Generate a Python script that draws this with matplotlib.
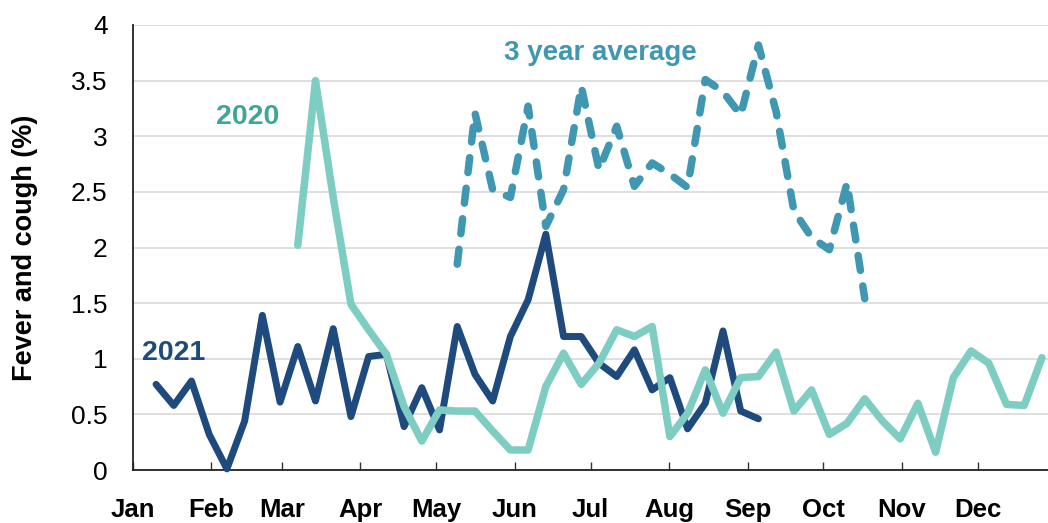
import matplotlib
matplotlib.use("Agg")
import matplotlib.pyplot as plt
import numpy as np

# ---------------- data ----------------
months = ["Jan", "Feb", "Mar", "Apr", "May", "Jun",
          "Jul", "Aug", "Sep", "Oct", "Nov", "Dec"]
month_start_day = [0, 31, 59, 90, 120, 151, 181, 212, 243, 273, 304, 334]

week_step = 7  # weekly observations, x in day-of-year

first_day_2021 = 9.3
vals_2021 = [0.77, 0.58, 0.80, 0.32, 0.01, 0.44, 1.39, 0.61, 1.11, 0.62,
             1.27, 0.48, 1.02, 1.04, 0.39, 0.74, 0.36, 1.29, 0.86, 0.62,
             1.20, 1.53, 2.12, 1.20, 1.20, 0.96, 0.84, 1.08, 0.72, 0.83,
             0.37, 0.60, 1.25, 0.53, 0.46]

first_day_2020 = 65.3
vals_2020 = [2.02, 3.50, 2.45, 1.49, 1.26, 1.04, 0.57, 0.26, 0.54, 0.53,
             0.53, 0.35, 0.18, 0.18, 0.75, 1.05, 0.77, 0.96, 1.26, 1.20,
             1.29, 0.30, 0.51, 0.90, 0.51, 0.83, 0.84, 1.06, 0.53, 0.72,
             0.32, 0.42, 0.64, 0.44, 0.28, 0.60, 0.16, 0.83, 1.07, 0.96,
             0.59, 0.58, 1.01]

first_day_avg = 128.3
vals_avg = [1.85, 3.21, 2.52, 2.45, 3.27, 2.19, 2.52, 3.45, 2.70, 3.09,
            2.55, 2.76, 2.66, 2.54, 3.51, 3.40, 3.19, 3.82, 3.22, 2.33,
            2.09, 1.98, 2.58, 1.54]

y_ticks = [0, 0.5, 1, 1.5, 2, 2.5, 3, 3.5, 4]
y_tick_labels = ["0", "0.5", "1", "1.5", "2", "2.5", "3", "3.5", "4"]

# ---------------- style ----------------
c2021 = "#1f4a7d"
c2020 = "#7ecdc3"
c2020_text = "#3ea699"
cavg = "#3f97b1"

plt.rcParams['font.family'] = ['Liberation Sans', 'DejaVu Sans']

fig = plt.figure(figsize=(10.48, 5.23), dpi=100)
ax = fig.add_axes([132.5 / 1048, 1 - 470 / 523, 1 - 132.5 / 1048, (470 - 25) / 523])

x2021 = first_day_2021 + week_step * np.arange(len(vals_2021))
x2020 = first_day_2020 + week_step * np.arange(len(vals_2020))
xavg = first_day_avg + week_step * np.arange(len(vals_avg))

ax.plot(x2021, vals_2021, color=c2021, lw=5.0, solid_joinstyle='round',
        solid_capstyle='round', zorder=3, clip_on=False)
ax.plot(x2020, vals_2020, color=c2020, lw=5.4, solid_joinstyle='round',
        solid_capstyle='round', zorder=4, clip_on=False)
ax.plot(xavg, vals_avg, color=cavg, lw=5.4, linestyle=(0, (2.0, 2.1)),
        dash_capstyle='round', dash_joinstyle='round', zorder=5, clip_on=False)

ax.set_xlim(0, 361.7)
ax.set_ylim(0, 4)

ax.set_yticks(y_ticks)
ax.set_yticklabels(y_tick_labels, fontsize=19)
ax.tick_params(axis='y', length=0, pad=18)
ax.yaxis.grid(True, color="#d9d9d9", lw=1.2)
ax.set_axisbelow(True)

ax.set_xticks(month_start_day)
ax.set_xticklabels(months, fontsize=18.5, fontweight='bold')
ax.tick_params(axis='x', direction='in', length=6, width=1.0, color="#333333", pad=20)

for s in ['top', 'right']:
    ax.spines[s].set_visible(False)
for s in ['left', 'bottom']:
    ax.spines[s].set_color("#222222")
    ax.spines[s].set_linewidth(1.3)

fig.text(25 / 1048, 1 - 248 / 523, "Fever and cough (%)", rotation=90,
         ha='center', va='center', fontsize=19.5, fontweight='bold')

ax.text(16.4, 1.05, "2021", color=c2021, fontsize=20.5, fontweight='bold',
        ha='center', va='center')
ax.text(45.6, 3.17, "2020", color=c2020_text, fontsize=20.5, fontweight='bold',
        ha='center', va='center')
ax.text(184.7, 3.75, "3 year average", color=cavg, fontsize=20, fontweight='bold',
        ha='center', va='center')

fig.savefig("out.png", dpi=100)
